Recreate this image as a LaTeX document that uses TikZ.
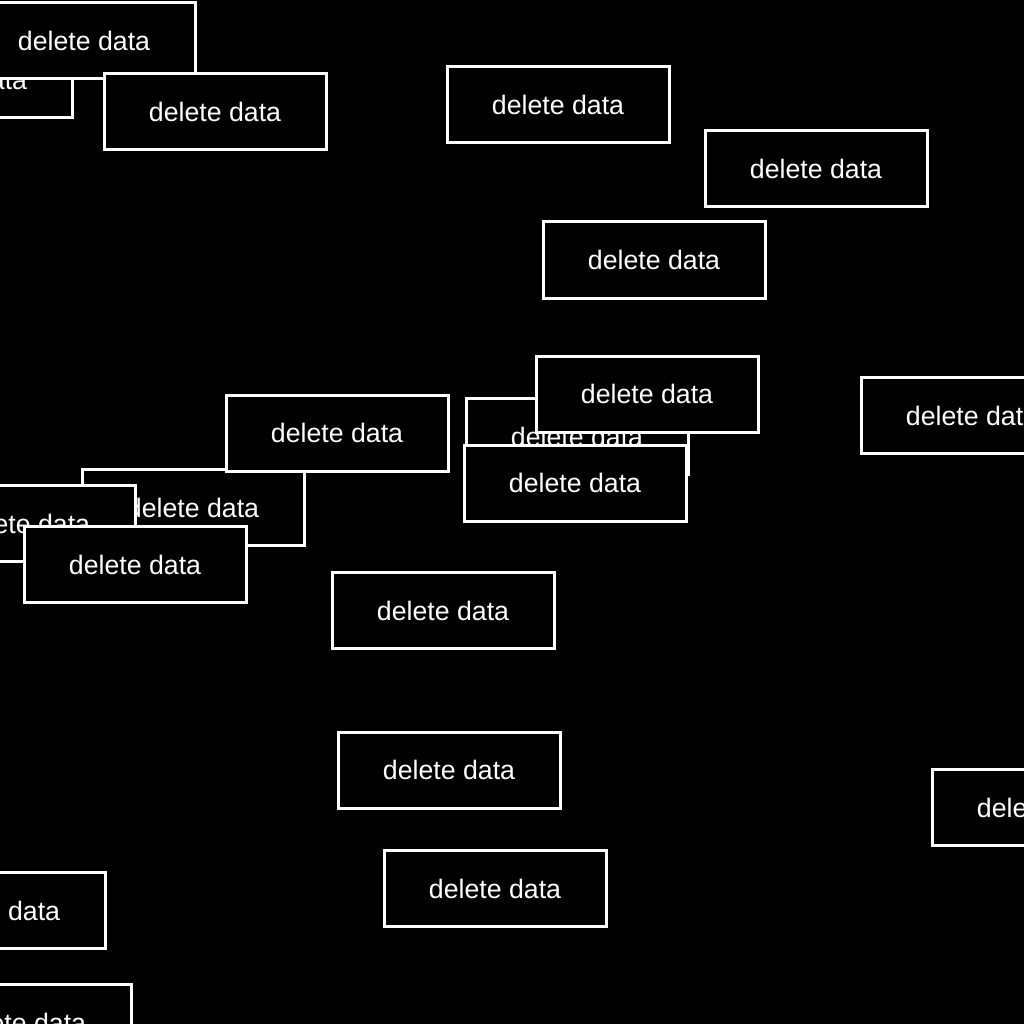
\documentclass[tikz,border=0pt]{standalone}
\usepackage{fontspec}
\setmainfont{Liberation Sans}
\begin{document}
\begin{tikzpicture}[x=1pt,y=-1pt,
  delbox/.style={draw=white,fill=black,line width=3pt,minimum width=222pt,minimum height=76pt,inner sep=0pt,text=white,font=\fontsize{26.7pt}{30pt}\selectfont}]
\useasboundingbox (0,0) rectangle (1024,1024);
\fill[black] (0,0) rectangle (1024,1024);
\clip (0,0) rectangle (1024,1024);
\node[delbox] (b1) at (-39,80) {delete data};
\node[delbox] (b2) at (84,40.5) {delete data};
\node[delbox] (b3) at (215,111.5) {delete data};
\node[delbox] (b4) at (558,105) {delete data};
\node[delbox] (b5) at (816,168.5) {delete data};
\node[delbox] (b6) at (654,260) {delete data};
\node[delbox] (b8) at (577,436.5) {delete data};
\node[delbox] (b7) at (647,394) {delete data};
\node[delbox] (b9) at (575,483) {delete data};
\node[delbox] (b10) at (972,415.5) {delete data};
\node[delbox] (b12) at (193,507.5) {delete data};
\node[delbox] (b11) at (337,433) {delete data};
\node[delbox] (b13) at (24,523.5) {delete data};
\node[delbox] (b14) at (135,564.5) {delete data};
\node[delbox] (b15) at (443,610.5) {delete data};
\node[delbox] (b16) at (449,770) {delete data};
\node[delbox] (b17) at (1043,807.5) {delete data};
\node[delbox] (b18) at (495,888.5) {delete data};
\node[delbox] (b19) at (-6,910.5) {delete data};
\node[delbox] (b20) at (20,1022.5) {delete data};
\end{tikzpicture}
\end{document}
